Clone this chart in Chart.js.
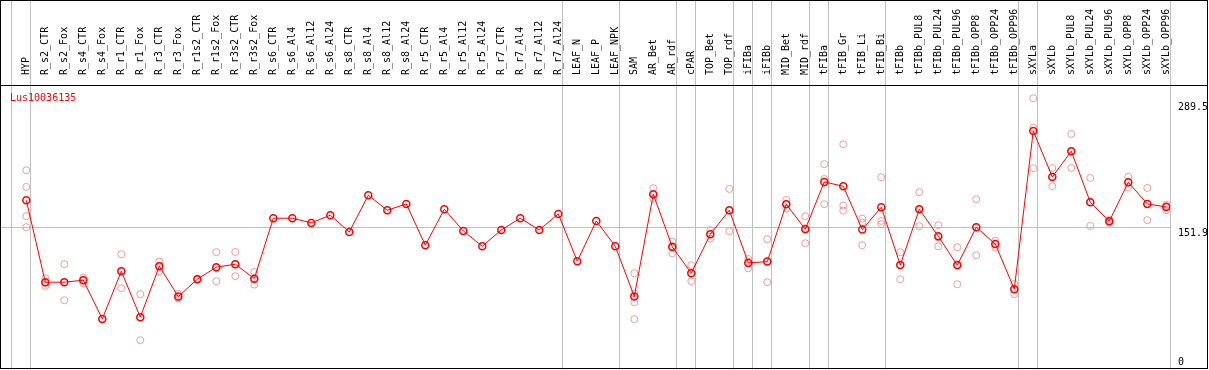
<!DOCTYPE html>
<html>
<head>
<meta charset="utf-8">
<title>Lus10036135</title>
<script src="https://cdn.jsdelivr.net/npm/chart.js@4.4.1/dist/chart.umd.min.js"></script>
<style>
body { margin: 0; background: #fff; }
canvas { display: block; }
</style>
</head>
<body>
<canvas id="myChart" width="1209" height="370"></canvas>
<script>
// gene shown in the top left corner
const geneName = "Lus10036135";

const categories = ["HYP", "R_s2_CTR", "R_s2_Fox", "R_s4_CTR", "R_s4_Fox", "R_r1_CTR", "R_r1_Fox",
  "R_r3_CTR", "R_r3_Fox", "R_r1s2_CTR", "R_r1s2_Fox", "R_r3s2_CTR", "R_r3s2_Fox",
  "R_s6_CTR", "R_s6_Al4", "R_s6_Al12", "R_s6_Al24", "R_s8_CTR", "R_s8_Al4", "R_s8_Al12", "R_s8_Al24",
  "R_r5_CTR", "R_r5_Al4", "R_r5_Al12", "R_r5_Al24", "R_r7_CTR", "R_r7_Al4", "R_r7_Al12", "R_r7_Al24",
  "LEAF_N", "LEAF_P", "LEAF_NPK", "SAM", "AR_Bet", "AR_rdf", "cPAR", "TOP_Bet", "TOP_rdf",
  "iFIBa", "iFIBb", "MID_Bet", "MID_rdf", "tFIBa", "tFIB_Gr", "tFIB_Li", "tFIB_Bi",
  "tFIBb", "tFIBb_PUL8", "tFIBb_PUL24", "tFIBb_PUL96", "tFIBb_OPP8", "tFIBb_OPP24", "tFIBb_OPP96",
  "sXYLa", "sXYLb", "sXYLb_PUL8", "sXYLb_PUL24", "sXYLb_PUL96", "sXYLb_OPP8", "sXYLb_OPP24", "sXYLb_OPP96"];

// mean per sample (the red line)
const means = [182.2, 92.6, 92.6, 94.8, 52.5, 104.6, 54.4, 110.1, 76.9, 95.9, 109, 112.3, 96.5,
  162.5, 162.5, 157.4, 165.8, 147.5, 187.6, 171.2, 178.1, 133, 172.3, 148.6, 131.9,
  149.7, 162.5, 149.7, 167.2, 115.5, 159.5, 131.9, 76.9, 188.7, 131.2, 102.4, 145, 171.2,
  113.7, 115.1, 177.8, 150.5, 202.1, 197.4, 150.1, 174.5, 111.3, 172.3, 142.8, 111.2,
  152.7, 134.4, 85, 257.8, 207.6, 235.7, 180, 159.2, 201.8, 178.1, 174.8];

// single replicates (pale circles), one list per sample
const replicates = [
  [214.9, 196.7, 164.7, 152.7], [97, 92, 88.5], [112.3, 92.6, 72.9], [97.6, 95, 91.5], [52.5],
  [123.2, 104.6, 86.1], [79.5, 54.4, 29.3], [115.1, 110.5, 104.6], [79.8, 76.3, 74.7], [96.5, 95.3],
  [125.4, 107.9, 93.7], [125.7, 112, 99.2], [103.9, 95.6, 90],
  [], [], [], [], [], [], [], [], [], [], [], [], [], [], [], [], [], [], [],
  [102.4, 80.6, 70.8, 52.2], [195.3, 188, 183.6], [137, 132, 124.3], [111.2, 102.4, 93.7],
  [149.4, 145.5, 140.2], [194.5, 171, 148.3], [118, 115.2, 107.9], [139.6, 115.1, 92.6],
  [182.5, 178, 173], [164.7, 151.5, 135.2], [221.5, 205.4, 177.8], [243.3, 176.3, 170.8],
  [162.1, 157.7, 133], [207.3, 159.5, 156], [125.4, 111.5, 95.9], [190.9, 172.3, 153.8],
  [154.9, 141.5, 131.9], [130.8, 112.4, 90.4], [183.2, 152.7, 122.1], [138, 134.4, 130.8],
  [90.7, 85, 79.5], [293.5, 261.4, 217.1], [217.4, 208, 197.4], [254.6, 235.7, 217.4],
  [206.5, 180, 154.1], [161, 159.2, 157.5], [207.9, 201.8, 196.4], [195.6, 178.1, 160.3],
  [177.4, 175.8, 171.2]];

const yTicks = [0, 151.9, 289.5];
// grey separators are drawn just right of these sample indexes
const groupEnds = [-1, 0, 28, 31, 34, 35, 37, 38, 39, 41, 42, 45, 52, 53, 60];

const monoFont = "DejaVu Sans Mono";

let meanPoints = means.map((v, i) => ({ x: i, y: v }));
let repPoints = [];
for (let i = 0; i < replicates.length; i++) {
  for (let v of replicates[i]) {
    repPoints.push({ x: i, y: v });
  }
}

const framePlugin = {
  id: "frame",
  beforeDraw(chart) {
    const ctx = chart.ctx;
    const xs = chart.scales.x;
    ctx.save();
    ctx.fillStyle = "#fff";
    ctx.fillRect(0, 0, chart.width, chart.height);
    ctx.strokeStyle = "#c0c0c0";
    ctx.lineWidth = 1;
    for (let g of groupEnds) {
      let px = Math.round(xs.getPixelForValue(g) + 4) + 0.5;
      ctx.beginPath();
      ctx.moveTo(px, 0);
      ctx.lineTo(px, chart.height);
      ctx.stroke();
    }
    ctx.restore();
  },
  afterDraw(chart) {
    const ctx = chart.ctx;
    ctx.save();
    ctx.strokeStyle = "#000";
    ctx.lineWidth = 1;
    ctx.strokeRect(0.5, 0.5, 1207, 368);
    ctx.beginPath();
    ctx.moveTo(0, chart.chartArea.top + 0.5);
    ctx.lineTo(1208, chart.chartArea.top + 0.5);
    ctx.stroke();
    ctx.fillStyle = "#ff0000";
    ctx.font = "10px '" + monoFont + "'";
    ctx.textBaseline = "alphabetic";
    ctx.fillText(geneName, 10, 100.5);
    ctx.restore();
  }
};

const config = {
  type: "line",
  data: {
    datasets: [
      {
        label: "mean",
        data: meanPoints,
        borderColor: "#ff0000",
        borderWidth: 1,
        pointRadius: 3.5,
        pointBorderWidth: 1.5,
        pointBorderColor: "#ff0000",
        pointBackgroundColor: "rgba(0,0,0,0)",
        tension: 0,
        order: 0
      },
      {
        label: "replicates",
        data: repPoints,
        showLine: false,
        pointRadius: 3.5,
        pointBorderWidth: 1,
        pointBorderColor: "#ee9c9c",
        pointBackgroundColor: "rgba(0,0,0,0)",
        order: 1
      }
    ]
  },
  options: {
    responsive: false,
    animation: false,
    events: [],
    layout: { autoPadding: false, padding: { left: 1, right: 0, top: 0, bottom: 3 } },
    plugins: {
      legend: { display: false },
      tooltip: { enabled: false }
    },
    scales: {
      x: {
        type: "linear",
        position: "top",
        min: -1.3316,
        max: 60.195,
        afterBuildTicks: (scale) => {
          scale.ticks = categories.map((c, i) => ({ value: i }));
        },
        afterFit: (scale) => {
          scale.height = 85;
          scale.paddingLeft = 0;
          scale.paddingRight = 0;
        },
        grid: { display: false },
        border: { display: false },
        ticks: {
          autoSkip: false,
          minRotation: 90,
          maxRotation: 90,
          padding: 2,
          labelOffset: 12,
          color: "#000",
          font: { family: monoFont, size: 10 },
          callback: (v) => categories[v]
        }
      },
      y: {
        position: "right",
        min: 0,
        max: 308,
        afterBuildTicks: (scale) => {
          scale.ticks = yTicks.map((v) => ({ value: v }));
        },
        afterFit: (scale) => {
          scale.width = 39;
          scale.paddingTop = 0;
          scale.paddingBottom = 0;
        },
        grid: {
          drawTicks: false,
          color: (c) => (c.tick && c.tick.value === 151.9 ? "#c0c0c0" : "rgba(0,0,0,0)")
        },
        border: { display: false },
        ticks: {
          padding: 8,
          color: "#000",
          font: { family: monoFont, size: 10, lineHeight: 1.0 },
          callback: (v) => (v === 0 ? ["0", ""] : ["", String(v)])
        }
      }
    }
  },
  plugins: [framePlugin]
};

let canvasChart = document.getElementById("myChart");
new Chart(canvasChart, config);
</script>
</body>
</html>
